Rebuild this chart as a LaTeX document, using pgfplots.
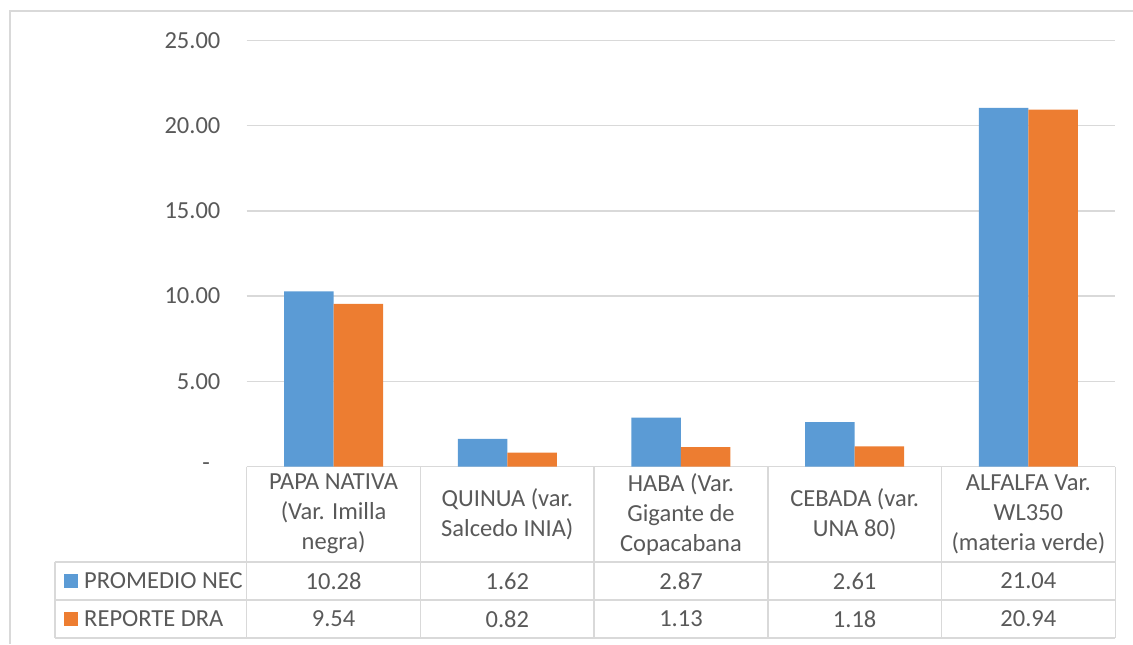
\documentclass[border=0pt]{standalone}
\usepackage{pgfplots}
\pgfplotsset{compat=1.18}
\usepackage{fontspec}
\setmainfont{Carlito}
\definecolor{nec}{HTML}{5B9BD5}
\definecolor{dra}{HTML}{ED7D31}
\definecolor{txt}{HTML}{595959}
\definecolor{gridc}{HTML}{D9D9D9}
\newcommand{\figfont}{\fontsize{9.8}{12}\selectfont}

\begin{document}
\begin{tikzpicture}[font=\figfont, text=txt]
\begin{axis}[
  width=347.4pt, height=170.4pt, scale only axis,
  ybar=0pt, bar width=19.8pt,
  xmin=-0.5, xmax=4.5, ymin=0, ymax=25,
  xtick=\empty,
  ytick={0,5,10,15,20,25},
  yticklabels={\makebox[7.2pt][l]{-},5.00,10.00,15.00,20.00,25.00},
  /pgf/number format/assume math mode=true,
  yticklabel style={font=\figfont, text=txt, xshift=-7pt},
  major tick length=0pt,
  ymajorgrids, grid style={gridc, line width=0.6pt},
  axis x line*=bottom, axis y line*=left,
  y axis line style={draw=none},
  x axis line style={gridc, line width=0.6pt, -},
  clip=false,
  every axis plot/.append style={draw=none},
]
\addplot[fill=nec] coordinates {(0,10.28) (1,1.62) (2,2.87) (3,2.61) (4,21.04)};
\addplot[fill=dra] coordinates {(0,9.54) (1,0.82) (2,1.13) (3,1.18) (4,20.94)};
\coordinate (O) at (rel axis cs:0,0);
\end{axis}

% outer border and bounding box
\path[use as bounding box] ([xshift=-98.7pt,yshift=-71pt]O) rectangle ([xshift=354.5pt,yshift=186.6pt]O);
\draw[gridc, line width=0.6pt] ([xshift=-94.7pt,yshift=-71pt]O) -- ([xshift=-94.7pt,yshift=182.2pt]O) -- ([xshift=354.5pt,yshift=182.2pt]O);

% data table
\begin{scope}[shift={(O)}, x=1pt, y=1pt]
  \draw[gridc, line width=0.6pt] (-76.7,-38.1) -- (347.4,-38.1);
  \draw[gridc, line width=0.6pt] (-76.7,-53.4) -- (347.4,-53.4);
  \draw[gridc, line width=0.6pt] (-76.7,-68.6) -- (347.4,-68.6);
  \draw[gridc, line width=0.6pt] (-76.7,-38.1) -- (-76.7,-68.6);
  \foreach \k in {0,...,5} {
    \draw[gridc, line width=0.6pt] (\k*69.48,0) -- (\k*69.48,-68.6);
  }
  \foreach \lab [count=\i from 0] in {
      {PAPA NATIVA\\(Var. Imilla\\negra)},
      {QUINUA (var.\\Salcedo INIA)},
      {HABA (Var.\\Gigante de\\Copacabana},
      {CEBADA (var.\\UNA 80)},
      {ALFALFA Var.\\WL350\\(materia verde)}} {
    \node[align=center, inner sep=0pt] at (34.74+\i*69.48,-19.05) {\lab};
  }
  \foreach \v [count=\i from 0] in {10.28,1.62,2.87,2.61,21.04} {
    \node[inner sep=0pt] at (34.74+\i*69.48,-45.75) {\v};
  }
  \foreach \v [count=\i from 0] in {9.54,0.82,1.13,1.18,20.94} {
    \node[inner sep=0pt] at (34.74+\i*69.48,-61.0) {\v};
  }
  \fill[nec] (-73.1,-48.55) rectangle (-67.5,-42.95);
  \node[anchor=west, inner sep=0pt] at (-65.2,-45.75) {PROMEDIO NEC};
  \fill[dra] (-73.1,-63.8) rectangle (-67.5,-58.2);
  \node[anchor=west, inner sep=0pt] at (-65.2,-61.0) {REPORTE DRA};
\end{scope}
\end{tikzpicture}
\end{document}
